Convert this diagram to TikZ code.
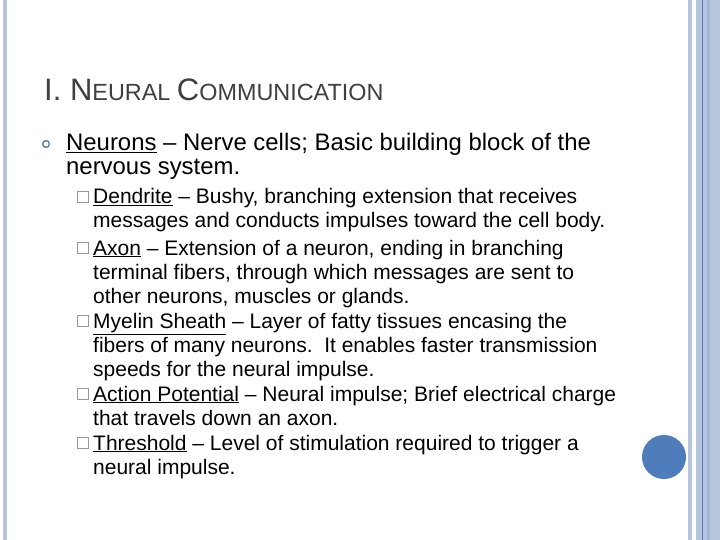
\documentclass[tikz,border=0pt]{standalone}
\usepackage{fontspec}
\setmainfont{Liberation Sans}
\definecolor{bar}{HTML}{B7C4DD}
\definecolor{dbar}{HTML}{4F7CBA}
\definecolor{ttl}{HTML}{3F3F3F}
\begin{document}
\begin{tikzpicture}[x=1pt,y=-1pt,
  l1/.style={anchor=base west,inner sep=0pt,font=\fontsize{23.9}{26}\selectfont},
  l2/.style={anchor=base west,inner sep=0pt,font=\fontsize{21}{24}\selectfont},
  box/.style={draw=gray!80,line width=0.7pt,minimum size=11pt,inner sep=0pt}]
\useasboundingbox (0,0) rectangle (720,540);
\fill[white] (0,0) rectangle (720,540);
\fill[bar] (3,0) rectangle (7,540);
\fill[bar] (688,0) rectangle (692,540);
\fill[bar] (696,0) rectangle (720,540);
\fill[bar!80!dbar] (707,0) rectangle (710,540);
\draw[dbar,line width=0.6pt] (702,0) -- (702,540);
\fill[dbar] (664,457) circle (22) node (c) {};
\node[anchor=base west,inner sep=0pt,text=ttl] (t) at (44,101)
  {\fontsize{31}{34}\selectfont I. N\fontsize{23.4}{26}\selectfont EURAL \fontsize{31}{34}\selectfont C\fontsize{23.4}{26}\selectfont OMMUNICATION};
\draw[dbar!70!gray,line width=1.4pt] (46,144) circle (3.4) node (b0) {};
\node[l1] (a1) at (66,151) {\underline{Neurons} – Nerve cells; Basic building block of the};
\node[l1] (a2) at (66,175) {nervous system.};
\foreach \y/\n in {204/d,255/ax,328/m,401/ap,450/th}{
  \node[box] (b\n) at (83,\y-7) {};}
\node[l2] (s1) at (93,204) {\underline{Dendrite} – Bushy, branching extension that receives};
\node[l2] (s2) at (93,228) {messages and conducts impulses toward the cell body.};
\node[l2] (s3) at (93,255) {\underline{Axon} – Extension of a neuron, ending in branching};
\node[l2] (s4) at (93,279) {terminal fibers, through which messages are sent to};
\node[l2] (s5) at (93,303) {other neurons, muscles or glands.};
\node[l2] (s6) at (93,328) {\underline{Myelin Sheath} – Layer of fatty tissues encasing the};
\node[l2] (s7) at (93,352) {fibers of many neurons.\ \ It enables faster transmission};
\node[l2] (s8) at (93,376) {speeds for the neural impulse.};
\node[l2] (s9) at (93,401) {\underline{Action Potential} – Neural impulse; Brief electrical charge};
\node[l2] (s10) at (93,425) {that travels down an axon.};
\node[l2] (s11) at (93,450) {\underline{Threshold} – Level of stimulation required to trigger a};
\node[l2] (s12) at (93,474) {neural impulse.};
\end{tikzpicture}
\end{document}
